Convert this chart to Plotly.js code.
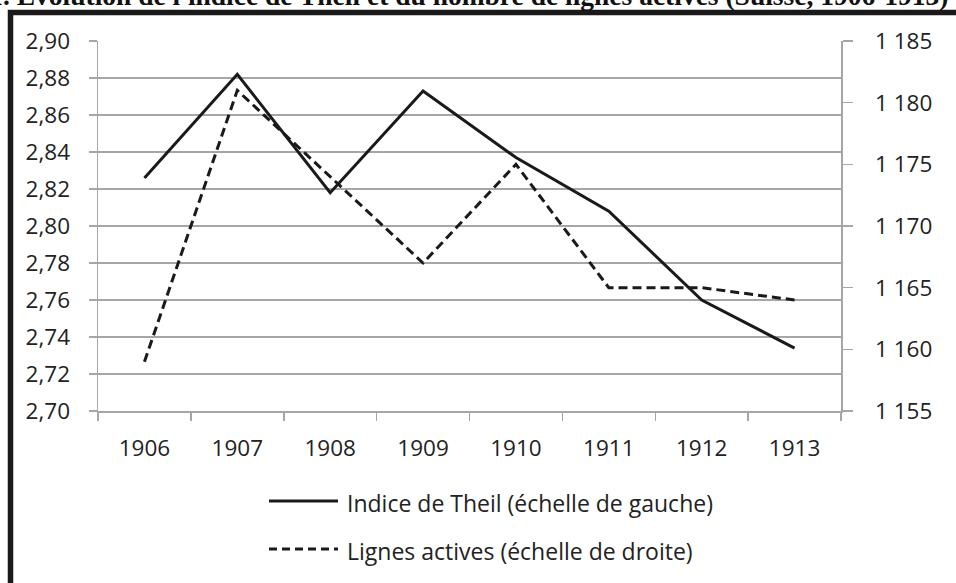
<!DOCTYPE html>
<html>
<head>
<meta charset="utf-8">
<script src="https://cdn.plot.ly/plotly-3.0.1.min.js"></script>
<style>html,body{margin:0;padding:0;background:#fff;}#chart{width:956px;height:583px;}</style>
</head>
<body>
<div id="chart"></div>
<script>
const years = ["1906","1907","1908","1909","1910","1911","1912","1913"];
const theil = [2.826, 2.882, 2.818, 2.873, 2.837, 2.808, 2.760, 2.734];
const lignes = [1159, 1181, 1174, 1167, 1175, 1165, 1165, 1164];
const nameTheil = "Indice de Theil (échelle de gauche)";
const nameLignes = "Lignes actives (échelle de droite)";
const titleText = "Graphique 1. Évolution de l'indice de Theil et du nombre de lignes actives (Suisse, 1906-1913)";

const W = 956, H = 583;
const L = 98, R = 841, T = 41, B = 411;
const px = x => (x - L) / (R - L);
const py = y => (B - y) / (B - T);

const gray = "#a6a6a6";
const ink = "#1a1a1a";
const fam = "'Open Sans', Lato, sans-serif";
const tickFont = {family: fam, size: 22.5, color: "#222"};

const traces = [
  {x: years, y: theil, type: "scatter", mode: "lines", name: nameTheil,
   line: {color: ink, width: 3}, yaxis: "y", showlegend: false, hoverinfo: "skip"},
  {x: years, y: lignes, type: "scatter", mode: "lines", name: nameLignes,
   line: {color: ink, width: 3, dash: "9px,5px"}, yaxis: "y2", showlegend: false, hoverinfo: "skip"}
];

const legY1 = 501, legY2 = 549;
const layout = {
  width: W, height: H,
  margin: {l: L, r: W - R, t: T, b: H - B, pad: 0},
  paper_bgcolor: "#fff", plot_bgcolor: "#fff",
  separators: ", ",
  showlegend: false,
  xaxis: {type: "category", range: [-0.5, years.length - 0.5], showgrid: false, zeroline: false, showline: true,
    linecolor: gray, linewidth: 1.5, ticks: "outside", tickson: "boundaries", ticklen: 8, tickcolor: gray,
    tickwidth: 1.5, tickfont: tickFont, ticklabelstandoff: 16},
  yaxis: {range: [2.70, 2.90], dtick: 0.02, tick0: 2.70, tickformat: ".2f", showgrid: true, gridcolor: gray, gridwidth: 1.5,
    zeroline: false, showline: true, linecolor: gray, linewidth: 1.5, ticks: "outside", ticklen: 8,
    tickcolor: gray, tickwidth: 1.5, tickfont: tickFont, ticklabelstandoff: 14},
  yaxis2: {range: [1155, 1185], dtick: 5, tick0: 1155, tickformat: ",d", overlaying: "y", side: "right",
    showgrid: false, zeroline: false, showline: true, linecolor: gray, linewidth: 1.5, ticks: "outside",
    ticklen: 10, tickcolor: gray, tickwidth: 1.5, tickfont: tickFont, ticklabelstandoff: 18},
  shapes: [
    {type: "rect", xref: "paper", yref: "paper", x0: px(10.5), x1: px(990), y0: py(640), y1: py(12.5),
     line: {color: ink, width: 5.5}, fillcolor: "rgba(0,0,0,0)", layer: "above"},
    {type: "line", xref: "paper", yref: "paper", x0: px(269), x1: px(338), y0: py(legY1), y1: py(legY1),
     line: {color: ink, width: 3}},
    {type: "line", xref: "paper", yref: "paper", x0: px(269), x1: px(338), y0: py(legY2), y1: py(legY2),
     line: {color: ink, width: 3, dash: "8px,5px"}}
  ],
  annotations: [
    {text: nameTheil, xref: "paper", yref: "paper", x: px(345), y: py(legY1 + 2), xanchor: "left", yanchor: "middle",
     showarrow: false, font: {family: fam, size: 23, color: "#222"}},
    {text: nameLignes, xref: "paper", yref: "paper", x: px(345), y: py(legY2 + 2), xanchor: "left", yanchor: "middle",
     showarrow: false, font: {family: fam, size: 23, color: "#222"}},
    {text: "<b>" + titleText + "</b>", xref: "paper", yref: "paper", x: px(951), y: py(-4), xanchor: "right", yanchor: "middle",
     showarrow: false, font: {family: "'Liberation Serif', 'Times New Roman', serif", size: 27.5, color: "#111"}}
  ]
};

Plotly.newPlot("chart", traces, layout, {staticPlot: true, displayModeBar: false});
</script>
</body>
</html>
